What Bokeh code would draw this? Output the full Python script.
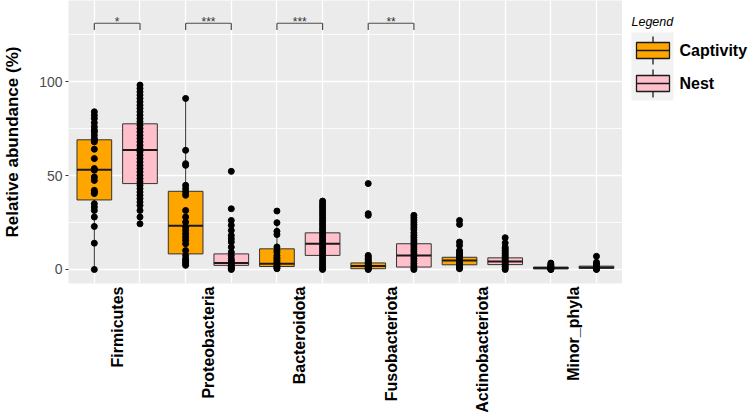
import math
from bokeh.plotting import figure
from bokeh.models import Range1d, FixedTicker
from bokeh.layouts import row
from bokeh.embed import file_html
from bokeh.resources import INLINE
from bokeh.core.properties import value

FONT = "Liberation Sans"

# ---------------- data ----------------
phyla = ["Firmicutes", "Proteobacteria", "Bacteroidota", "Fusobacteriota",
         "Actinobacteriota", "Minor_phyla"]
groups = ["Captivity", "Nest"]
sig_labels = ["*", "***", "***", "**", "", ""]

# box statistics (lower whisker, Q1, median, Q3, upper whisker)
cap_lo = [0.0, 2.2, 0.4, 0.0, 0.4, 0.0]
cap_q1 = [37.0, 8.3, 1.6, 0.4, 2.5, 0.3]
cap_med = [53.0, 23.3, 3.1, 1.8, 4.8, 0.8]
cap_q3 = [69.0, 41.6, 11.0, 3.5, 6.5, 1.3]
cap_hi = [83.9, 91.0, 24.9, 7.5, 12.0, 2.6]

nest_lo = [24.3, 0.0, 0.0, 0.0, 0.0, 0.0]
nest_q1 = [45.7, 2.2, 7.5, 1.3, 2.6, 0.6]
nest_med = [63.6, 3.4, 13.7, 7.5, 4.3, 1.0]
nest_q3 = [77.5, 8.3, 19.5, 13.7, 6.2, 1.8]
nest_hi = [98.1, 16.3, 36.4, 28.8, 11.5, 3.5]

# individual samples (points)
cap_firmicutes = [83.9, 82.0, 80.3, 78.0, 75.9, 74.1, 73.2, 71.4, 69.7, 68.8, 67.9, 64.0,
                  59.0, 53.7, 52.8, 49.2, 47.4, 42.1, 41.2, 40.4, 35.0, 33.2, 31.4, 27.9,
                  22.9, 14.0, 0.0]
cap_proteobacteria = [91.0, 63.4, 56.3, 55.4, 44.8, 43.0, 41.2, 39.5, 31.4, 27.9, 25.2, 22.6,
                      20.8, 19.0, 17.2, 15.5, 13.7, 10.1, 7.5, 5.7, 4.8, 3.9, 3.0, 2.2]
cap_bacteroidota = [31.1, 24.9, 20.3, 18.6, 12.0, 10.2, 9.1, 7.5, 6.4, 5.7, 4.8, 3.9, 3.1,
                    2.2, 1.5, 0.8, 0.4]
cap_fusobacteriota = [45.7, 29.7, 28.8, 7.5, 6.8, 6.0, 5.2, 4.5, 3.8, 3.1, 2.5, 1.9, 1.4,
                      0.9, 0.5, 0.2, 0.0]
cap_actinobacteriota = [26.1, 24.0, 14.6, 12.8, 10.1, 9.3, 8.4, 7.6, 6.8, 6.1, 5.4, 4.7,
                        4.0, 3.3, 2.6, 2.0, 1.3, 0.7, 0.4]
cap_minor = [3.4, 2.6, 2.1, 1.7, 1.3, 1.0, 0.7, 0.5, 0.3, 0.1, 0.0]

nest_firmicutes = [98.1, 96.3, 94.5, 92.8, 91.0, 89.2, 87.4, 85.7, 83.9, 82.1, 80.3, 78.6,
                   76.8, 75.0, 73.2, 71.4, 69.7, 67.9, 66.1, 64.3, 62.6, 60.8, 59.0, 57.2,
                   55.4, 53.7, 51.9, 50.1, 48.3, 46.6, 44.8, 43.0, 41.2, 39.5, 37.7, 35.9,
                   34.1, 31.4, 27.9, 24.3]
nest_proteobacteria = [52.2, 32.3, 26.1, 23.5, 20.8, 18.1, 16.3, 14.6, 11.9, 9.2, 7.5, 5.7,
                       4.6, 3.9, 3.0, 2.2, 1.5, 0.9, 0.4, 0.0]
nest_bacteroidota = [36.4, 35.1, 33.8, 32.6, 31.2, 29.9, 28.7, 27.3, 26.0, 24.8, 23.5, 22.1,
                     20.9, 19.6, 18.3, 17.0, 15.8, 14.4, 13.2, 11.9, 10.6, 9.4, 8.1, 6.8,
                     5.6, 4.3, 3.1, 1.8, 0.6, 0.0]
nest_fusobacteriota = [28.8, 27.6, 26.3, 25.1, 23.8, 22.5, 21.3, 19.6, 18.2, 17.0, 15.7,
                       14.5, 13.2, 12.0, 10.7, 9.5, 8.2, 7.0, 5.7, 4.5, 3.2, 2.0, 0.8, 0.0]
nest_actinobacteriota = [16.9, 14.1, 11.9, 11.0, 10.2, 9.3, 8.5, 7.6, 6.8, 5.9, 5.1, 4.2,
                         3.4, 2.5, 1.7, 0.8, 0.0]
nest_minor = [7.0, 3.8, 3.0, 2.4, 1.8, 1.3, 0.9, 0.5, 0.2, 0.0]

y_ticks = [0, 50, 100]
y_minor = [25, 75, 125]

cap_points = [cap_firmicutes, cap_proteobacteria, cap_bacteroidota, cap_fusobacteriota,
              cap_actinobacteriota, cap_minor]
nest_points = [nest_firmicutes, nest_proteobacteria, nest_bacteroidota, nest_fusobacteriota,
               nest_actinobacteriota, nest_minor]

stats = {
    "Captivity": (cap_lo, cap_q1, cap_med, cap_q3, cap_hi, cap_points),
    "Nest": (nest_lo, nest_q1, nest_med, nest_q3, nest_hi, nest_points),
}

# ---------------- style ----------------
colors = {"Captivity": "#FFA500", "Nest": "#FFC0CB"}
BOX_W = 0.76
EDGE = "#333333"
BRACKET_Y = 131.0
BRACKET_TIP = 127.4
STAR_Y = 131.9

FIG_H = 416
BOTTOM = 133
FRAME_H = FIG_H - BOTTOM

n_groups = len(groups)
n_pos = len(phyla) * n_groups

p = figure(width=622, height=FIG_H,
           x_range=Range1d(-0.566, n_pos - 1 + 0.57),
           y_range=Range1d(-7.45, 143.1),
           output_backend="svg", toolbar_location=None,
           min_border_left=65, min_border_right=0, min_border_top=0,
           min_border_bottom=BOTTOM)
p.background_fill_color = "#EBEBEB"
p.border_fill_color = "white"
p.outline_line_color = None

# grids
p.xgrid.ticker = FixedTicker(ticks=list(range(n_pos)))
p.xgrid.grid_line_color = "white"
p.xgrid.grid_line_width = 1.3
p.ygrid.ticker = FixedTicker(ticks=y_ticks, minor_ticks=y_minor)
p.ygrid.grid_line_color = "white"
p.ygrid.grid_line_width = 1.3
p.ygrid.minor_grid_line_color = "white"
p.ygrid.minor_grid_line_width = 0.8

for g_idx, g in enumerate(groups):
    lo, q1, med, q3, hi, pts = stats[g]
    xs = [i * n_groups + g_idx for i in range(len(phyla))]
    p.segment(x0=xs, y0=q3, x1=xs, y1=hi, line_color=EDGE, line_width=1)
    p.segment(x0=xs, y0=lo, x1=xs, y1=q1, line_color=EDGE, line_width=1)
    p.vbar(x=xs, width=BOX_W, bottom=q1, top=q3, fill_color=colors[g],
           line_color=EDGE, line_width=1)
    p.segment(x0=[x - BOX_W / 2 for x in xs], y0=med,
              x1=[x + BOX_W / 2 for x in xs], y1=med,
              line_color="#1A1A1A", line_width=2)

for g_idx, g in enumerate(groups):
    pts = stats[g][5]
    for i, vals in enumerate(pts):
        x = i * n_groups + g_idx
        p.scatter(x=[x] * len(vals), y=vals, size=6, color="black")

# significance brackets
for i, lab in enumerate(sig_labels):
    if not lab:
        continue
    x0 = i * n_groups
    x1 = i * n_groups + 1
    p.segment(x0=[x0, x0, x1], y0=[BRACKET_Y, BRACKET_Y, BRACKET_Y],
              x1=[x1, x0, x1], y1=[BRACKET_Y, BRACKET_TIP, BRACKET_TIP],
              line_color="#4D4D4D", line_width=1.2)
    p.text(x=[(x0 + x1) / 2], y=[STAR_Y], text=[lab], text_align="center",
           text_baseline="alphabetic", text_font=value(FONT),
           text_font_size="12px", text_color="#333333")

# axes
p.yaxis.ticker = FixedTicker(ticks=y_ticks, minor_ticks=y_minor)
p.yaxis.axis_label = "Relative abundance (%)"
p.yaxis.axis_label_text_font = FONT
p.yaxis.axis_label_text_font_style = "bold"
p.yaxis.axis_label_text_font_size = "17px"
p.yaxis.axis_label_text_color = "black"
p.yaxis.axis_label_standoff = 14
p.yaxis.major_label_text_font = FONT
p.yaxis.major_label_text_font_size = "14px"
p.yaxis.major_label_text_color = "#4D4D4D"
p.yaxis.major_label_standoff = 2
p.yaxis.axis_line_color = None
p.yaxis.major_tick_line_color = EDGE
p.yaxis.major_tick_out = 3
p.yaxis.major_tick_in = 0
p.yaxis.minor_tick_line_color = None

label_pos = [i * n_groups + (n_groups - 1) / 2 for i in range(len(phyla))]
p.xaxis.ticker = FixedTicker(ticks=label_pos)
p.xaxis.major_label_overrides = {pos: name for pos, name in zip(label_pos, phyla)}
p.xaxis.major_label_orientation = math.pi / 2
p.xaxis.major_label_text_font = FONT
p.xaxis.major_label_text_font_style = "bold"
p.xaxis.major_label_text_font_size = "16px"
p.xaxis.major_label_text_color = "black"
p.xaxis.major_label_standoff = 3
p.xaxis.axis_line_color = None
p.xaxis.major_tick_line_color = None
p.xaxis.major_tick_out = 0
p.xaxis.major_tick_in = 0
p.xaxis.minor_tick_line_color = None

# ---------------- legend panel (pixel coordinates, y downward) ----------------
lg = figure(width=127, height=FIG_H, x_range=Range1d(0, 127), y_range=Range1d(FRAME_H, 0),
            output_backend="svg", toolbar_location=None, min_border=0,
            min_border_bottom=BOTTOM, x_axis_location=None, y_axis_location=None)
lg.grid.visible = False
lg.outline_line_color = None
lg.background_fill_color = "white"
lg.border_fill_color = "white"

lg.text(x=[9], y=[21], text=["Legend"], text_font=value(FONT), text_font_style="italic",
        text_font_size="12.5px", text_baseline="middle", text_color="black")
lg.quad(left=[9], right=[51], top=[32], bottom=[100], fill_color="#F2F2F2", line_color=None)
key_centers = [50, 83]
for k, g in enumerate(groups):
    c = key_centers[k]
    lg.segment(x0=[30.5], y0=[c - 14], x1=[30.5], y1=[c + 14], line_color="#1A1A1A",
               line_width=1.3)
    lg.quad(left=[14], right=[47], top=[c - 8], bottom=[c + 8], fill_color=colors[g],
            line_color="#1A1A1A", line_width=1.3)
    lg.segment(x0=[14], y0=[c], x1=[47], y1=[c], line_color="#1A1A1A", line_width=1.6)
    lg.text(x=[57], y=[c], text=[g], text_font=value(FONT), text_font_style="bold",
            text_font_size="16px", text_baseline="middle", text_color="black")

layout = row(p, lg)
open("out.html", "w").write(file_html(layout, INLINE))
